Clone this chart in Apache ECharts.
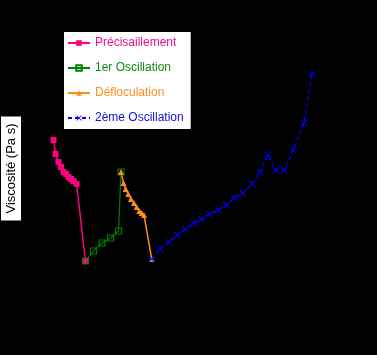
<!DOCTYPE html>
<html>
<head>
<meta charset="utf-8">
<script src="https://cdn.jsdelivr.net/npm/echarts@6/dist/echarts.min.js"></script>
<style>
html,body{margin:0;padding:0;background:#000;}
#chart{width:377px;height:355px;}
</style>
</head>
<body>
<div id="chart"></div>
<script>
// time (arbitrary units) and viscosity (Pa s)
const seriesNames = ['Précisaillement', '1er Oscillation', 'Défloculation', '2ème Oscillation'];

const preX = [13.5, 15.5, 18.5, 21, 23.5, 26, 28.5, 31, 33.5, 36.5, 45.5];
const preY = [1.40, 1.26, 1.18, 1.13, 1.08, 1.06, 1.03, 1.01, 0.99, 0.96, 0.19];

const osc1X = [45.5, 53.5, 62, 70.5, 78.5, 81];
const osc1Y = [0.19, 0.29, 0.37, 0.42, 0.49, 1.08];

const deflX = [81, 83.5, 85.7, 88.3, 91, 94, 96.7, 99.3, 101.7, 104, 111.7];
const deflY = [1.08, 0.97, 0.91, 0.86, 0.81, 0.77, 0.73, 0.69, 0.67, 0.65, 0.21];

const osc2X = [111.7, 120, 128.7, 137.3, 145.3, 153.7, 161.7, 169.7, 178.3, 186.3, 194.3, 202.5, 212, 220, 228, 235.7, 244, 253.3, 264, 272];
const osc2Y = [0.21, 0.31, 0.38, 0.45, 0.51, 0.57, 0.61, 0.66, 0.70, 0.75, 0.82, 0.87, 0.96, 1.08, 1.25, 1.10, 1.10, 1.30, 1.57, 2.06];

const yLabel = 'Viscosité (Pa s)';

const colors = ['#ff0080', '#008000', '#ff8c1a', '#0000ff'];
const textColors = ['#f0108a', '#108a10', '#ff9020', '#1010e0'];

function pairs(xs, ys) { return xs.map((x, i) => [x, ys[i]]); }

const crossPath = 'path://M0,1L1,0L5,4L9,0L10,1L6,5L10,9L9,10L5,6L1,10L0,9L4,5Z';

const chart = echarts.init(document.getElementById('chart'));
chart.setOption({
  animation: false,
  backgroundColor: '#000',
  grid: { left: 40, right: 37, top: 57, bottom: 75, outerBoundsMode: 'none', containLabel: false },
  xAxis: {
    type: 'value', min: 0, max: 300,
    axisLine: { show: false }, axisTick: { show: false },
    axisLabel: { show: false }, splitLine: { show: false }
  },
  yAxis: {
    type: 'value', min: 0, max: 2.23,
    name: yLabel, nameLocation: 'middle', nameGap: 19, nameRotate: 90,
    nameTextStyle: {
      color: '#000', backgroundColor: '#fff', fontSize: 13,
      fontFamily: 'Liberation Sans, Arial, sans-serif',
      padding: [4, 7, 3, 7]
    },
    axisLine: { show: false }, axisTick: { show: false },
    axisLabel: { show: false }, splitLine: { show: false }
  },
  legend: {
    orient: 'vertical', left: 64, top: 32,
    backgroundColor: '#fff', borderRadius: 0,
    padding: [5, 7, 5, 3],
    itemWidth: 22, itemHeight: 7, itemGap: 13,
    textStyle: { fontSize: 12, fontFamily: 'Liberation Sans, Arial, sans-serif' },
    data: seriesNames.map((n, i) => ({ name: n, textStyle: { color: textColors[i] } }))
  },
  series: [
    {
      name: seriesNames[0], type: 'line', data: pairs(preX, preY),
      symbol: 'rect', symbolSize: 6,
      lineStyle: { color: colors[0], width: 1.5 },
      itemStyle: { color: colors[0] }
    },
    {
      name: seriesNames[1], type: 'line', data: pairs(osc1X, osc1Y),
      symbol: 'rect', symbolSize: 6,
      lineStyle: { color: colors[1], width: 1.2 },
      itemStyle: { color: 'rgba(0,0,0,0)', borderColor: colors[1], borderWidth: 1.2 }
    },
    {
      name: seriesNames[2], type: 'line', data: pairs(deflX, deflY),
      symbol: 'triangle', symbolSize: 6,
      lineStyle: { color: colors[2], width: 1.5 },
      itemStyle: { color: colors[2] }
    },
    {
      name: seriesNames[3], type: 'line', data: pairs(osc2X, osc2Y),
      symbol: crossPath, symbolSize: 7,
      lineStyle: { color: colors[3], width: 1.2, type: [4, 3] },
      itemStyle: { color: colors[3] }
    }
  ]
});
</script>
</body>
</html>
